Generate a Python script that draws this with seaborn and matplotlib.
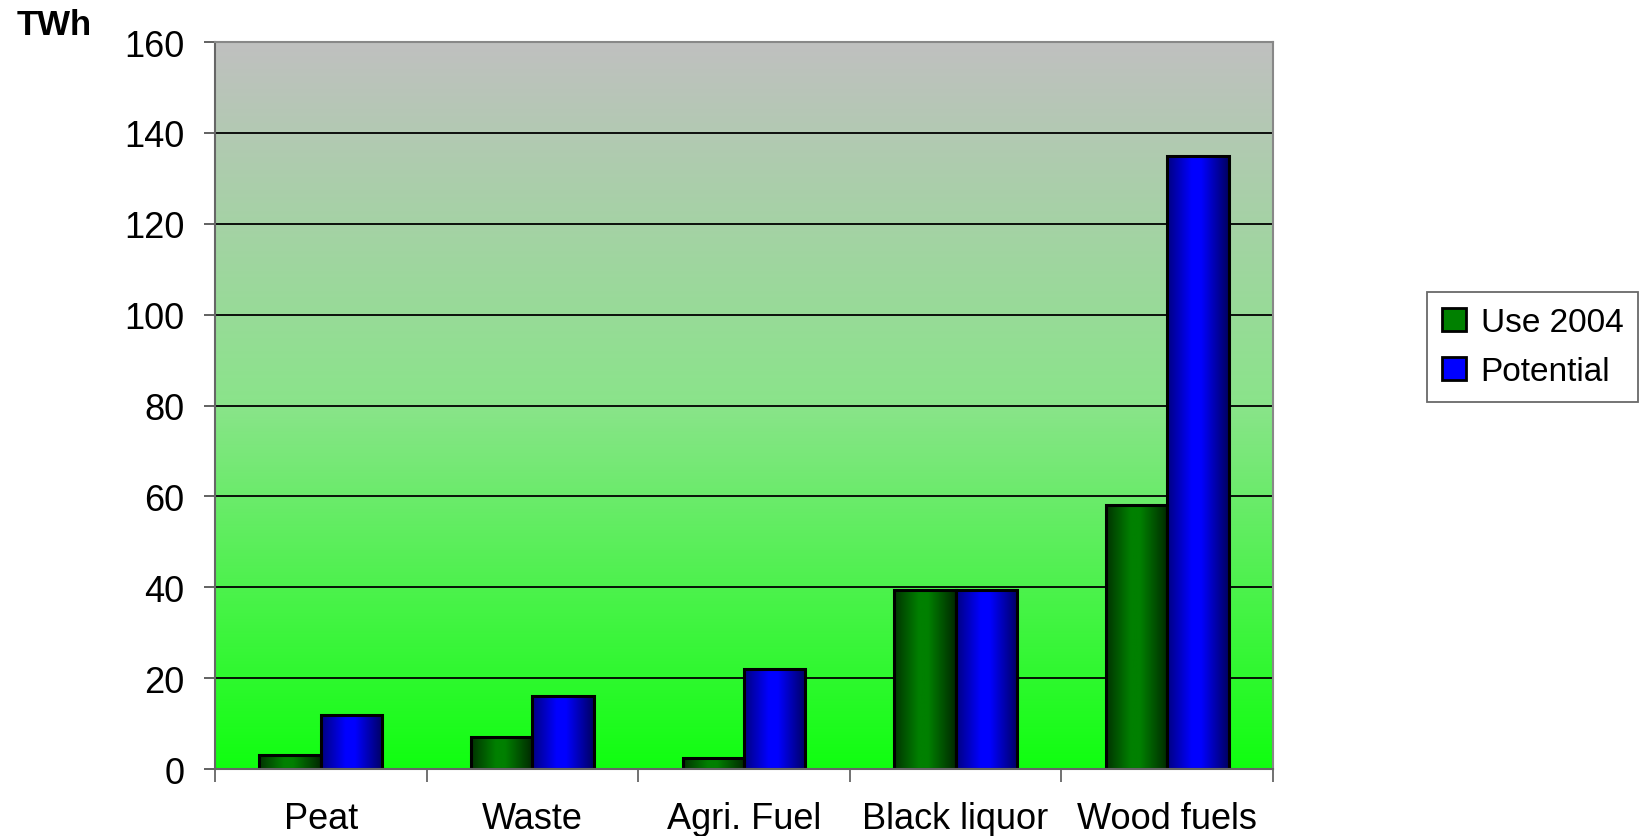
import numpy as np
import pandas as pd
import matplotlib
matplotlib.use("Agg")
import matplotlib.pyplot as plt
import seaborn as sns
from matplotlib.colors import LinearSegmentedColormap
from matplotlib.patches import Patch

categories = ["Peat", "Waste", "Agri. Fuel", "Black liquor", "Wood fuels"]
use_2004 = [3, 7, 2.5, 39.5, 58]
potential = [12, 16, 22, 39.5, 135]
series_names = ["Use 2004", "Potential"]
y_ticks = [0, 20, 40, 60, 80, 100, 120, 140, 160]

df = pd.DataFrame({
    "Category": categories * 2,
    "Series": [series_names[0]] * len(categories) + [series_names[1]] * len(categories),
    "TWh": use_2004 + potential,
})

sns.set_theme(style="white")
plt.rcParams["font.family"] = ["Liberation Sans", "DejaVu Sans"]
plt.rcParams["text.color"] = "black"
plt.rcParams["xtick.color"] = "black"
plt.rcParams["ytick.color"] = "black"

fig = plt.figure(figsize=(16.46, 8.37), dpi=100)
ax = fig.add_axes([0.1306, 0.080, 0.6428, 0.8686])

base_colors = {"Use 2004": "#008000", "Potential": "#0000FF"}
sns.barplot(data=df, x="Category", y="TWh", hue="Series", palette=base_colors,
            width=0.58, edgecolor="black", linewidth=2.2, saturation=1,
            legend=False, ax=ax, zorder=3)

ax.set_xlim(-0.5, len(categories) - 0.5)
ax.set_ylim(0, 160)

# background gradient (gray at top -> bright green at bottom)
bg_cmap = LinearSegmentedColormap.from_list("bg", [(0.0, "#10FF10"), (0.5, "#8AE48A"), (1.0, "#C0C0C0")])
grad = np.linspace(0, 1, 256).reshape(-1, 1)
ax.imshow(grad, extent=[0, 1, 0, 1], transform=ax.transAxes, aspect="auto",
          cmap=bg_cmap, origin="lower", zorder=0)

# cylinder-like horizontal shading on bars
cmaps = {
    "#008000": LinearSegmentedColormap.from_list("g", [(0, "#003300"), (0.4, "#008000"), (0.55, "#008000"), (1, "#002800")]),
    "#0000FF": LinearSegmentedColormap.from_list("b", [(0, "#000080"), (0.4, "#0000FF"), (0.55, "#0000FF"), (1, "#000060")]),
}
hgrad = np.linspace(0, 1, 256).reshape(1, -1)
for p in list(ax.patches):
    fc = matplotlib.colors.to_hex(p.get_facecolor())
    key = "#008000" if fc.lower() == "#008000" else "#0000FF"
    x0, y0 = p.get_x(), p.get_y()
    w, h = p.get_width(), p.get_height()
    if h <= 0:
        continue
    im = ax.imshow(hgrad, extent=[x0, x0 + w, y0, y0 + h], aspect="auto",
                   cmap=cmaps[key], zorder=3.5)
    im.set_clip_path(p)
    p.set_facecolor("none")
    p.set_zorder(4)

ax.set_xlim(-0.5, len(categories) - 0.5)
ax.set_ylim(0, 160)

# grid
ax.set_yticks(y_ticks)
ax.yaxis.grid(True, color="black", linewidth=1.3, zorder=1)
ax.set_axisbelow(True)
for gl in ax.get_ygridlines():
    gl.set_zorder(1)

ax.tick_params(axis="y", which="major", direction="out", length=8, width=1.3,
               color="#555555", labelcolor="black", labelsize=26, pad=14, left=True)
ax.set_xticks(range(len(categories)))
ax.set_xticklabels(categories)
ax.set_xticks(np.arange(-0.5, len(categories), 1), minor=True)
ax.tick_params(axis="x", which="major", length=0, labelsize=26, labelcolor="black", pad=23)
ax.tick_params(axis="x", which="minor", direction="out", length=9, width=1.3,
               color="#666666", bottom=True)

for s in ["left", "bottom"]:
    ax.spines[s].set_color("#666666")
    ax.spines[s].set_linewidth(1.5)
for s in ["top", "right"]:
    ax.spines[s].set_color("#888888")
    ax.spines[s].set_linewidth(1.5)
for s in ax.spines.values():
    s.set_zorder(5)

ax.set_xlabel("")
ax.set_ylabel("")

fig.text(0.010, 0.970, "TWh", fontsize=25, fontweight="bold", color="black",
         ha="left", va="center")

handles = [Patch(facecolor=base_colors[n], edgecolor="black", linewidth=2) for n in series_names]
leg = fig.legend(handles, series_names, loc="upper left", bbox_to_anchor=(0.857, 0.670),
                 fontsize=24, frameon=True, fancybox=False, edgecolor="#444444",
                 handlelength=0.7, handleheight=0.7, handletextpad=0.45,
                 borderpad=0.45, labelspacing=0.55)
leg.get_frame().set_linewidth(1.3)
for t in leg.get_texts():
    t.set_color("black")

fig.savefig("out.png", dpi=100)
